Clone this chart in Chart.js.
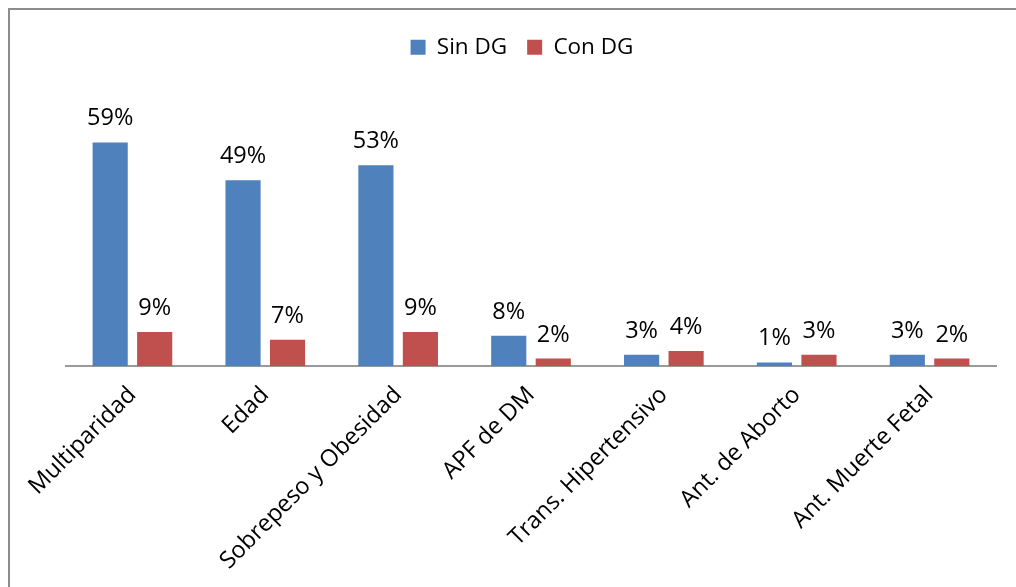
<!DOCTYPE html>
<html>
<head>
<meta charset="utf-8">
<script src="https://cdn.jsdelivr.net/npm/chart.js@4"></script>
<style>
  html, body { margin: 0; padding: 0; background: #fff; overflow: hidden; }
  #frame {
    position: absolute; left: 8px; top: 8px; width: 1100px; height: 700px;
    border-left: 2px solid #8c8c8c; border-top: 2px solid #8c8c8c;
  }
  #wrap { position: absolute; left: 0; top: 0; width: 1016px; height: 587px; }
</style>
</head>
<body>
<div id="frame"></div>
<div id="wrap"><canvas id="chart" width="1016" height="587"></canvas></div>
<script>
// Factores de riesgo, % por grupo
const categories = [
  "Multiparidad", "Edad", "Sobrepeso y Obesidad", "APF de DM",
  "Trans. Hipertensivo", "Ant. de Aborto", "Ant. Muerte Fetal"
];
const sinDG = [59, 49, 53, 8, 3, 1, 3];
const conDG = [9, 7, 9, 2, 4, 3, 2];
const yMax = 78.5;

const FONT = "'Open Sans', 'Noto Sans', sans-serif";
const FONT_SIZE = 23.5;

// percentage label above each bar
const valueLabels = {
  id: "valueLabels",
  afterDatasetsDraw(chart) {
    const ctx = chart.ctx;
    ctx.save();
    ctx.font = FONT_SIZE + "px " + FONT;
    ctx.fillStyle = "#000";
    ctx.textAlign = "center";
    ctx.textBaseline = "alphabetic";
    chart.data.datasets.forEach((ds, i) => {
      chart.getDatasetMeta(i).data.forEach((bar, j) => {
        ctx.fillText(ds.data[j] + "%", bar.x, bar.y - 17);
      });
    });
    ctx.restore();
  }
};

// nudge the legend a little left of the plot centre
const legendNudge = {
  id: "legendNudge",
  afterLayout(chart) {
    if (chart.legend) chart.legend.left -= 18;
  }
};

const ctx = document.getElementById("chart").getContext("2d");
new Chart(ctx, {
  type: "bar",
  data: {
    labels: categories,
    datasets: [
      { label: "Sin DG", data: sinDG, backgroundColor: "#4F81BD" },
      { label: "Con DG", data: conDG, backgroundColor: "#C0504D" }
    ]
  },
  options: {
    responsive: false,
    animation: false,
    categoryPercentage: 0.67,
    barPercentage: 0.79,
    layout: { padding: { top: 16, left: 66, right: 20, bottom: 5 } },
    plugins: {
      legend: {
        position: "top",
        labels: {
          boxWidth: 15, boxHeight: 15, padding: 20,
          color: "#000", font: { family: FONT, size: 22.5 }
        }
      },
      tooltip: { enabled: false }
    },
    scales: {
      x: {
        grid: { display: false },
        border: { display: true, color: "#9a9a9a", width: 2 },
        ticks: {
          color: "#000", font: { family: FONT, size: FONT_SIZE },
          minRotation: 45, maxRotation: 45, autoSkip: false, padding: 7
        }
      },
      y: { display: false, min: 0, max: yMax }
    }
  },
  plugins: [valueLabels, legendNudge]
});
</script>
</body>
</html>
